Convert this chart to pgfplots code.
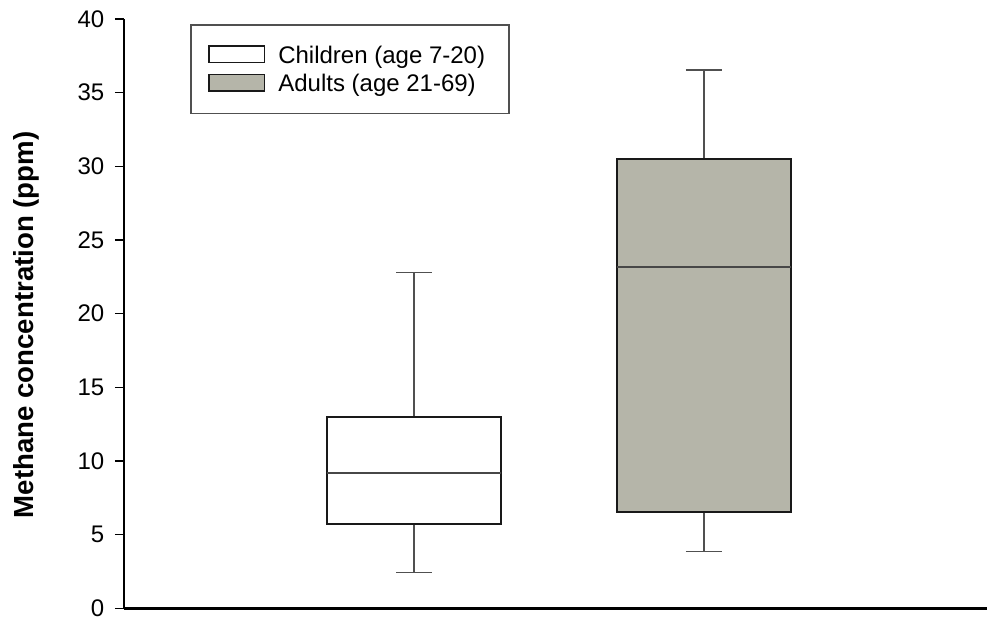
\documentclass[border=0pt]{standalone}
\usepackage{fontspec}
\setmainfont{Liberation Sans}
\usepackage{pgfplots}
\pgfplotsset{compat=1.18}
\usepgfplotslibrary{statistics}
\definecolor{adultfill}{RGB}{181,181,169}
\definecolor{boxline}{RGB}{25,25,25}
\definecolor{whiskline}{RGB}{80,80,80}
\begin{document}
\begin{tikzpicture}
\begin{axis}[
    name=ax,
    scale only axis,
    width=863pt, height=589.3pt,
    xmin=0, xmax=2.976,
    ymin=0, ymax=40,
    axis lines*=left,
    axis line style={line width=2.5pt, black},
    xtick=\empty,
    ytick={0,5,...,40},
    tick align=outside,
    major tick length=9pt,
    ytick style={line width=1.5pt, black},
    /pgf/number format/assume math mode=true,
    yticklabel={\pgfmathprintnumber{\tick}},
    yticklabel style={font=\fontsize{24}{28}\selectfont, anchor=east, inner sep=0pt, xshift=-10.6pt},
    ylabel={Methane concentration (ppm)},
    ylabel style={font=\fontsize{27.6}{32}\selectfont\bfseries,
        at={(axis description cs:-0.105,0.481)}, anchor=base},
    legend style={
        at={(axis description cs:0.0768,0.9915)}, anchor=north west,
        draw=whiskline, line width=1.5pt,
        font=\fontsize{24}{28}\selectfont,
        inner xsep=17pt, inner ysep=16.8pt, row sep=1.9pt,
        nodes={inner sep=0pt, text height=21.5pt, text depth=5pt},
    },
    legend cell align=left,
    boxlegend/.style={legend image code/.code={
        \draw[##1, line width=1.5pt] (0pt,-7.65pt) rectangle (55.6pt,8.75pt);
        \path (68.8pt,0pt);}},
    boxplot/draw direction=y,
    boxplot/box extend=0.601,
    boxplot/whisker extend=0.124,
    boxplot/every box/.style={draw=boxline, line width=2pt},
    boxplot/every whisker/.style={draw=whiskline, line width=1.5pt},
    boxplot/every median/.style={draw=boxline!80!white, line width=1.8pt},
]
% lower whisker, lower quartile, median, upper quartile, upper whisker
\addplot[boxplot prepared={draw position=1,
    lower whisker=2.42, lower quartile=5.70, median=9.21,
    upper quartile=12.97, upper whisker=22.78},
    draw=boxline, fill=white, boxlegend] coordinates {};
\addlegendentry{Children (age 7-20)\hspace*{7pt}}
\addplot[boxplot prepared={draw position=2,
    lower whisker=3.84, lower quartile=6.54, median=23.15,
    upper quartile=30.52, upper whisker=36.55},
    draw=boxline, fill=adultfill, boxlegend] coordinates {};
\addlegendentry{Adults (age 21-69)}
\end{axis}
\pgfresetboundingbox
\path (ax.south west) ++(-124pt,-9.7pt) rectangle ++(987pt,618pt);
\end{tikzpicture}
\end{document}
